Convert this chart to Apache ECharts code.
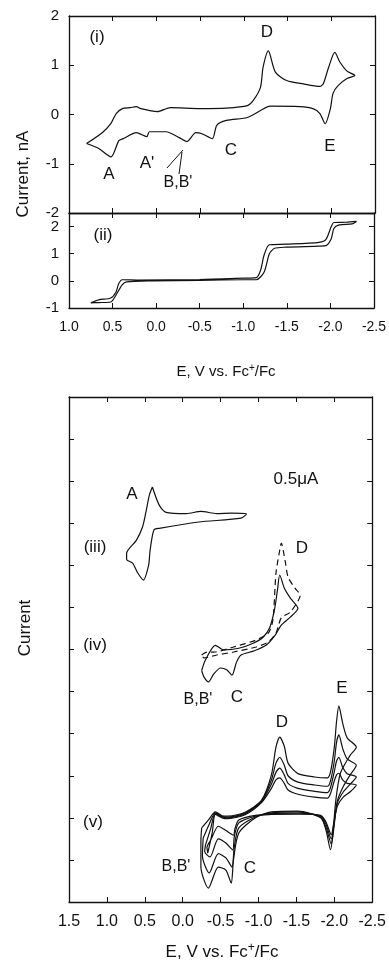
<!DOCTYPE html>
<html>
<head>
<meta charset="utf-8">
<script src="https://cdn.jsdelivr.net/npm/echarts@6/dist/echarts.min.js"></script>
<style>
  html, body { margin: 0; padding: 0; background: #fff; }
  #chart { width: 389px; height: 969px; }
</style>
</head>
<body>
<div id="chart"></div>
<script>
// (i) voltammogram, [E (V), current (nA)] as one closed loop
var loopI = [
  [0.80, -0.59], [0.66, -0.69], [0.52, -0.86], [0.43, -0.53], [0.38, -0.49],
  [0.23, -0.37], [0.11, -0.45], [0.08, -0.35], [-0.11, -0.35], [-0.26, -0.47],
  [-0.35, -0.55], [-0.45, -0.37], [-0.52, -0.39], [-0.64, -0.49], [-0.69, -0.22],
  [-0.80, -0.12], [-1.04, -0.06], [-1.19, 0.08], [-1.30, 0.17], [-1.64, 0.16],
  [-1.79, 0.12], [-1.87, 0.02], [-1.93, -0.19], [-1.99, 0.12], [-2.02, 0.43],
  [-2.08, 0.59], [-2.18, 0.73], [-2.27, 0.79],
  [-2.18, 0.88], [-2.10, 1.06], [-2.04, 1.26], [-1.97, 0.96], [-1.91, 0.63],
  [-1.87, 0.57], [-1.68, 0.62], [-1.49, 0.69], [-1.36, 0.86], [-1.28, 1.29],
  [-1.22, 0.96], [-1.19, 0.55], [-1.11, 0.29], [-1.04, 0.18], [-0.80, 0.13],
  [-0.50, 0.12], [-0.16, 0.14], [-0.01, 0.06], [0.18, 0.12], [0.23, 0.16],
  [0.30, 0.14], [0.39, 0.12], [0.46, 0.02], [0.52, -0.18], [0.62, -0.37],
  [0.80, -0.59]
];

// (ii) steady-state voltammogram, forward and return
var loopII = [
  [0.75, -0.81], [0.66, -0.70], [0.52, -0.63], [0.46, -0.41], [0.43, -0.11],
  [0.39, 0.04], [0.20, 0.03], [-0.50, 0.05], [-1.00, 0.10], [-1.15, 0.12],
  [-1.20, 0.40], [-1.24, 0.96], [-1.30, 1.33], [-1.49, 1.35], [-1.87, 1.42],
  [-1.95, 1.53], [-2.01, 2.00], [-2.04, 2.15], [-2.18, 2.16], [-2.30, 2.19],
  [-2.25, 2.10], [-2.10, 2.06], [-2.04, 1.93], [-2.01, 1.55], [-1.95, 1.30],
  [-1.87, 1.28], [-1.49, 1.24], [-1.36, 1.20], [-1.30, 1.00], [-1.24, 0.33],
  [-1.15, 0.04], [-1.00, 0.04], [-0.50, 0.02], [0.05, 0.00], [0.34, -0.04],
  [0.39, -0.15], [0.46, -0.52], [0.52, -0.78], [0.66, -0.80], [0.75, -0.81]
];

// lower panel, current in tick units (0.5 µA per tick)
var loopIII = [
  [0.40, 9.86], [0.31, 9.43], [0.22, 9.26], [-0.05, 9.23], [-0.24, 9.28],
  [-0.45, 9.23], [-0.64, 9.24], [-0.84, 9.22], [-0.77, 9.12], [-0.21, 9.03],
  [0.31, 8.88], [0.38, 8.84], [0.43, 8.36], [0.45, 8.00], [0.52, 7.65],
  [0.60, 7.84], [0.66, 8.05], [0.74, 8.14], [0.74, 8.29], [0.61, 8.60],
  [0.53, 8.91], [0.48, 9.31], [0.44, 9.67], [0.40, 9.86]
];

var loopIVsolid = [
  [-0.25, 5.50], [-0.30, 5.75], [-0.43, 6.10], [-0.54, 5.99], [-0.74, 6.03],
  [-0.93, 6.15], [-1.06, 6.29], [-1.15, 6.53], [-1.21, 6.94], [-1.25, 7.41],
  [-1.28, 7.77], [-1.34, 7.46], [-1.42, 7.22], [-1.52, 6.98],
  [-1.42, 6.77], [-1.30, 6.58], [-1.22, 6.34], [-1.10, 6.10], [-0.93, 5.96],
  [-0.77, 5.87], [-0.71, 5.70], [-0.65, 5.39], [-0.58, 5.52], [-0.50, 5.56],
  [-0.41, 5.42], [-0.34, 5.23], [-0.28, 5.35], [-0.25, 5.50]
];

var loopIVdashed = [
  [-0.25, 5.87], [-0.32, 5.94], [-0.41, 5.94], [-0.67, 6.06], [-0.96, 6.22],
  [-1.13, 6.39], [-1.19, 6.70], [-1.23, 7.81], [-1.28, 8.36], [-1.30, 8.53],
  [-1.35, 8.12], [-1.39, 7.72], [-1.48, 7.46], [-1.55, 7.29],
  [-1.42, 6.89], [-1.30, 6.75], [-1.23, 6.39], [-1.13, 6.18], [-0.97, 6.06],
  [-0.67, 5.94], [-0.45, 5.87], [-0.28, 5.80], [-0.25, 5.87]
];

var loopV1 = [
  [-0.25, 1.76], [-0.34, 1.95], [-0.43, 2.14], [-0.52, 2.05], [-0.60, 2.04],
  [-0.83, 2.14], [-1.04, 2.42], [-1.17, 3.02], [-1.23, 3.68], [-1.28, 3.92],
  [-1.34, 3.70], [-1.39, 3.30], [-1.52, 3.05], [-1.74, 2.97], [-1.91, 2.95],
  [-1.95, 3.09], [-2.00, 3.68], [-2.03, 4.30], [-2.06, 4.66], [-2.11, 4.25],
  [-2.17, 3.90], [-2.29, 3.68],
  [-2.21, 3.49], [-2.08, 3.06], [-2.02, 2.42], [-1.98, 1.60], [-1.95, 1.24],
  [-1.89, 1.71], [-1.82, 2.00], [-1.52, 2.16], [-1.17, 2.14], [-0.96, 2.00],
  [-0.74, 1.64], [-0.67, 1.00], [-0.64, 0.45], [-0.57, 0.76], [-0.47, 0.83],
  [-0.34, 0.33], [-0.24, 0.83], [-0.24, 1.45], [-0.25, 1.76]
];

var loopV2 = [
  [-0.27, 1.52], [-0.35, 1.85], [-0.43, 2.12], [-0.52, 2.03], [-0.60, 2.02],
  [-0.83, 2.12], [-1.04, 2.40], [-1.17, 2.90], [-1.23, 3.30], [-1.28, 3.44],
  [-1.34, 3.25], [-1.39, 3.00], [-1.52, 2.85], [-1.74, 2.78], [-1.91, 2.75],
  [-1.95, 2.88], [-2.00, 3.35], [-2.03, 3.80], [-2.06, 3.97], [-2.11, 3.65],
  [-2.17, 3.40], [-2.29, 3.25],
  [-2.21, 3.02], [-2.12, 2.75], [-2.04, 2.40], [-1.99, 1.70], [-1.96, 1.38],
  [-1.89, 1.78], [-1.82, 2.02], [-1.52, 2.14], [-1.17, 2.12], [-0.96, 2.02],
  [-0.74, 1.76], [-0.68, 1.30], [-0.65, 0.83], [-0.57, 1.05], [-0.47, 1.15],
  [-0.35, 0.69], [-0.26, 1.10], [-0.27, 1.52]
];

var loopV3 = [
  [-0.30, 1.35], [-0.37, 1.75], [-0.43, 2.10], [-0.52, 2.02], [-0.60, 2.00],
  [-0.83, 2.10], [-1.04, 2.38], [-1.17, 2.80], [-1.23, 3.08], [-1.28, 3.18],
  [-1.34, 3.02], [-1.39, 2.82], [-1.52, 2.70], [-1.74, 2.63], [-1.91, 2.60],
  [-1.95, 2.72], [-2.00, 3.10], [-2.03, 3.35], [-2.06, 3.44], [-2.11, 3.20],
  [-2.17, 3.05], [-2.29, 2.97],
  [-2.21, 2.80], [-2.12, 2.62], [-2.04, 2.35], [-1.99, 1.78], [-1.96, 1.50],
  [-1.89, 1.85], [-1.82, 2.04], [-1.52, 2.11], [-1.17, 2.10], [-0.96, 2.04],
  [-0.74, 1.88], [-0.68, 1.55], [-0.66, 1.24], [-0.57, 1.40], [-0.47, 1.50],
  [-0.36, 1.07], [-0.29, 1.20], [-0.30, 1.35]
];

var loopV4 = [
  [-0.33, 1.16], [-0.39, 1.65], [-0.43, 2.08], [-0.52, 2.00], [-0.60, 1.98],
  [-0.83, 2.08], [-1.04, 2.36], [-1.17, 2.70], [-1.23, 2.90], [-1.28, 2.95],
  [-1.34, 2.82], [-1.39, 2.66], [-1.52, 2.56], [-1.74, 2.49], [-1.91, 2.47],
  [-1.95, 2.58], [-2.00, 2.88], [-2.03, 3.02], [-2.06, 3.06], [-2.11, 2.90],
  [-2.17, 2.82], [-2.29, 2.78],
  [-2.21, 2.62], [-2.12, 2.50], [-2.04, 2.28], [-1.99, 1.85], [-1.96, 1.60],
  [-1.89, 1.90], [-1.82, 2.06], [-1.52, 2.09], [-1.17, 2.08], [-0.96, 2.06],
  [-0.74, 1.95], [-0.69, 1.75], [-0.67, 1.59], [-0.57, 1.70], [-0.47, 1.80],
  [-0.37, 1.47], [-0.32, 1.30], [-0.33, 1.16]
];

(function () {
  var myChart = echarts.init(document.getElementById('chart'));
  var ink = '#111';
  var font = '"Liberation Sans", Arial, sans-serif';

  function xAx(grid, pos, min, max, showLabel, size) {
    return {
      type: 'value', gridIndex: grid, position: pos, inverse: true,
      min: min, max: max, interval: 0.5,
      axisLine: { show: true, onZero: false, lineStyle: { color: ink, width: 1.3 } },
      axisTick: { show: true, inside: true, length: 5, lineStyle: { color: ink } },
      splitLine: { show: false },
      axisLabel: {
        show: showLabel, color: ink, fontSize: size || 14, fontFamily: font,
        margin: 12, formatter: function (v) { return v.toFixed(1); }
      }
    };
  }

  function yAx(grid, pos, min, max, showLabel) {
    return {
      type: 'value', gridIndex: grid, position: pos,
      min: min, max: max, interval: 1,
      axisLine: { show: true, onZero: false, lineStyle: { color: ink, width: 1.3 } },
      axisTick: { show: true, inside: true, length: 5, lineStyle: { color: ink } },
      splitLine: { show: false },
      axisLabel: {
        show: showLabel, color: ink, fontSize: 15, fontFamily: font,
        margin: 10, showMaxLabel: max !== 2.5
      }
    };
  }

  function cv(data, xi, yi, dashed) {
    return {
      type: 'line', data: data, xAxisIndex: xi, yAxisIndex: yi,
      symbol: 'none', smooth: 0.25, silent: true,
      lineStyle: { color: ink, width: 1.2, type: dashed ? [6, 4] : 'solid' }
    };
  }

  function txt(x, y, s, size, rot) {
    return {
      type: 'text', x: x, y: y, rotation: rot || 0,
      style: {
        text: s, fill: ink, font: (size || 15) + 'px ' + font,
        textAlign: 'center', textVerticalAlign: 'middle'
      }
    };
  }

  function axisTitle(x, y, size) {
    return {
      type: 'text', x: x, y: y,
      style: {
        text: 'E, V vs. Fc{s|+}/Fc', fill: ink, font: size + 'px ' + font,
        textAlign: 'center', textVerticalAlign: 'middle',
        rich: { s: { fontSize: size - 5, fontFamily: font, fill: ink, padding: [0, 0, 8, 0] } }
      }
    };
  }

  var option = {
    animation: false,
    grid: [
      { left: 69, top: 16, width: 306, height: 197 },
      { left: 69, top: 213, width: 306, height: 95 },
      { left: 69, top: 397, width: 305, height: 505 }
    ],
    xAxis: [
      xAx(0, 'bottom', -2.5, 1, false),
      xAx(0, 'top', -2.5, 1, false),
      xAx(1, 'bottom', -2.5, 1, true, 14),
      xAx(1, 'top', -2.5, 1, false),
      xAx(2, 'bottom', -2.5, 1.5, true, 16),
      xAx(2, 'top', -2.5, 1.5, false)
    ],
    yAxis: [
      yAx(0, 'left', -2, 2, true),
      yAx(0, 'right', -2, 2, false),
      yAx(1, 'left', -1, 2.5, true),
      yAx(1, 'right', -1, 2.5, false),
      yAx(2, 'left', 0, 12, false),
      yAx(2, 'right', 0, 12, false)
    ],
    series: [
      cv(loopI, 0, 0),
      cv(loopII, 2, 2),
      cv(loopIII, 4, 4),
      cv(loopIVsolid, 4, 4),
      cv(loopIVdashed, 4, 4, true),
      cv(loopV1, 4, 4),
      cv(loopV2, 4, 4),
      cv(loopV3, 4, 4),
      cv(loopV4, 4, 4)
    ],
    graphic: [
      txt(23, 174, 'Current, nA', 17, Math.PI / 2),
      txt(25, 628, 'Current', 17, Math.PI / 2),
      axisTitle(226, 372, 15),
      axisTitle(222, 952, 17),
      // panel (i)
      txt(97, 37, '(i)', 17),
      txt(267, 32, 'D', 17),
      txt(330, 146, 'E', 17),
      txt(231, 150, 'C', 17),
      txt(109, 174, 'A', 17),
      txt(147, 163, "A'", 17),
      txt(178, 183, "B,B'", 16),
      { type: 'line', shape: { x1: 167, y1: 168, x2: 183, y2: 150 }, style: { stroke: ink, lineWidth: 1 } },
      { type: 'line', shape: { x1: 179, y1: 174, x2: 182, y2: 152 }, style: { stroke: ink, lineWidth: 1 } },
      // panel (ii)
      txt(103, 235, '(ii)', 17),
      // lower panel
      txt(296, 479, '0.5\u03bcA', 17),
      txt(132, 494, 'A', 17),
      txt(95, 547, '(iii)', 17),
      txt(302, 548, 'D', 17),
      txt(95, 645, '(iv)', 17),
      txt(198, 700, "B,B'", 16),
      txt(237, 697, 'C', 17),
      txt(342, 688, 'E', 17),
      txt(282, 722, 'D', 17),
      txt(93, 822, '(v)', 17),
      txt(176, 867, "B,B'", 16),
      txt(250, 868, 'C', 17)
    ]
  };

  myChart.setOption(option);

  window.addEventListener('resize', function () {
    myChart.resize();
  });
})();
</script>
</body>
</html>
